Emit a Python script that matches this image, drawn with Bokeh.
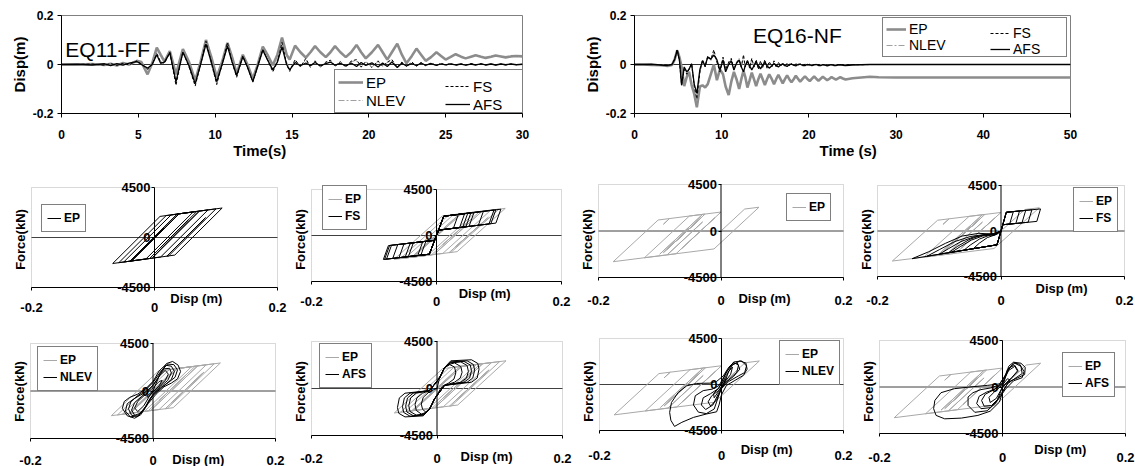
from bokeh.plotting import figure
from bokeh.layouts import row, column
from bokeh.models import (Range1d, LinearAxis, FixedTicker, NumeralTickFormatter,
                          CustomJSTickFormatter, Span, Label, Legend, LegendItem, BoxAnnotation)
from bokeh.embed import file_html
from bokeh.resources import INLINE

FONT = "Liberation Sans"

# ---------------- time histories (EQ11-FF) ----------------
eq11_t = [0, 1, 2, 2.8, 3.2, 3.6, 4.0, 4.4, 4.9, 5.2, 5.6, 5.9, 6.2, 6.45, 6.7, 7.05, 7.45, 7.9,
          8.3, 8.7, 9.05, 9.4, 9.75, 10.1, 10.45, 10.8, 11.1, 11.4, 11.8, 12.1, 12.45, 12.75, 13.1,
          13.4, 13.75, 14.05, 14.35, 14.65, 14.85, 15.2, 15.55, 15.9, 16.2, 16.5, 16.85, 17.2, 17.5,
          17.8, 18.15, 18.5, 18.85, 19.2, 19.5, 19.8, 20.2, 20.6, 20.9, 21.2, 21.5, 21.85, 22.15,
          22.45, 22.8, 23.1, 23.4, 23.7, 24.05, 24.4, 24.7, 25.0, 25.3, 25.65, 26.0, 26.3, 26.65,
          26.95, 27.3, 27.6, 27.95, 28.25, 28.6, 28.9, 29.25, 29.6, 30.0]
eq11_ep = [0, 0, 0.002, -0.002, 0.003, -0.004, 0.006, 0.0,
           0.015, 0.01, -0.04, 0.005, 0.069, 0.04, 0.012, 0.055, -0.04, 0.063,
           0.01, -0.065, 0.01, 0.1, 0.03, -0.052, 0.01, 0.088, 0.03, -0.037,
           0.04, 0.0, -0.058, -0.005, 0.073, 0.04, -0.003, 0.04, 0.11, 0.04,
           0.02, 0.077, 0.05, 0.028, 0.05, 0.075, 0.05, 0.03, 0.05, 0.075,
           0.05, 0.03, 0.05, 0.08, 0.05, 0.025, 0.05, 0.08, 0.05, 0.02,
           0.05, 0.085, 0.04, 0.005, 0.035, 0.065, 0.04, 0.015, 0.03, 0.05,
           0.035, 0.02, 0.03, 0.042, 0.032, 0.025, 0.032, 0.038, 0.032, 0.027,
           0.032, 0.037, 0.033, 0.029, 0.033, 0.035, 0.033]
eq11_fs = [0, 0, 0.002, -0.003, 0.004, -0.004, 0.005, -0.002,
           0.015, 0.002, -0.02, 0.0, 0.045, 0.01, 0.005, 0.05, -0.085, 0.052,
           -0.01, -0.088, 0.0, 0.095, 0.01, -0.082, 0.0, 0.09, 0.01, -0.052,
           0.035, -0.01, -0.072, -0.01, 0.062, 0.02, -0.03, 0.01, 0.09, 0.0,
           -0.028, 0.02, -0.01, 0.025, -0.012, 0.015, -0.01, 0.01, 0.018, -0.008,
           0.012, -0.01, 0.014, 0.02, -0.01, 0.012, -0.012, 0.015, -0.008, 0.01,
           0.02, -0.012, 0.01, -0.008, 0.01, -0.006, 0.008, -0.005, 0.006, -0.004,
           0.005, -0.003, 0.004, -0.003, 0.003, -0.003, 0.004, -0.002, 0.003, -0.002,
           0.002, -0.002, 0.002, -0.002, 0.002, -0.001, 0.001]
eq11_nlev = [0, 0.001, -0.001, 0.002, -0.003, 0.003, -0.002, 0.004,
             0.013, 0.004, -0.03, 0.0, 0.05, 0.01, 0.008, 0.05, -0.075, 0.055,
             -0.01, -0.082, 0.0, 0.092, 0.0, -0.078, 0.0, 0.085, 0.01, -0.048,
             0.036, -0.01, -0.068, -0.01, 0.065, 0.02, -0.02, 0.02, 0.085, 0.01,
             -0.02, 0.015, -0.005, 0.018, -0.008, 0.012, -0.012, 0.008, 0.015, -0.006,
             0.01, -0.012, 0.012, 0.015, -0.012, 0.01, -0.01, 0.012, -0.006, 0.008,
             0.015, -0.01, 0.008, -0.006, 0.008, -0.005, 0.006, -0.004, 0.005, -0.003,
             0.004, -0.003, 0.003, -0.002, 0.002, -0.002, 0.003, -0.002, 0.002, -0.001,
             0.002, -0.001, 0.001, -0.001, 0.001, 0.0, 0.0]
eq11_afs = [0, 0.001, -0.002, 0.003, -0.005, 0.004, -0.003, 0.006,
            0.012, 0.0, -0.015, 0.0, 0.04, 0.005, 0.01, 0.048, -0.07, 0.05,
            -0.005, -0.078, 0.0, 0.083, 0.01, -0.07, 0.0, 0.075, 0.01, -0.045,
            0.032, -0.01, -0.07, -0.01, 0.058, 0.02, -0.022, 0.01, 0.072, 0.0,
            -0.022, 0.008, -0.005, 0.006, -0.004, 0.008, -0.006, 0.004, 0.01, -0.003,
            0.005, -0.006, 0.006, -0.008, 0.008, -0.004, 0.007, -0.01, 0.006, -0.008,
            0.01, -0.012, 0.005, -0.006, 0.004, -0.005, 0.006, -0.003, 0.004, -0.004,
            0.003, -0.002, 0.003, -0.002, 0.002, -0.003, 0.002, -0.002, 0.003, -0.002,
            0.002, -0.002, 0.002, -0.001, 0.002, -0.001, 0.001]

# ---------------- time histories (EQ16-NF) ----------------
eq16_t = [0, 1, 2, 3, 3.8, 4.3, 4.6, 4.9, 5.15, 5.4,
          5.7, 6.0, 6.25, 6.55, 6.85, 7.15, 7.5, 7.8, 8.1, 8.4,
          8.75, 9.1, 9.45, 9.8, 10.15, 10.45, 10.8, 11.1, 11.4, 11.7,
          12.0, 12.25, 12.5, 12.7, 12.95, 13.2, 13.45, 13.7, 13.95, 14.2,
          14.45, 14.7, 14.95, 15.2, 15.45, 15.75, 16.0, 16.25, 16.5, 16.75,
          17.0, 17.25, 17.5, 17.75, 18.0, 18.25, 18.5, 18.75, 19.0, 19.3,
          19.55, 19.8, 20.1, 20.35, 20.6, 20.85, 21.1, 21.35, 21.6, 21.85,
          22.1, 22.4, 22.6, 22.85, 23.1, 23.4, 23.6, 23.9, 24.2, 25,
          26, 27, 28, 30, 35, 40, 45, 50]
eq16_ep = [0, 0, -0.002, -0.003, -0.006, -0.002, 0.02, 0.058, 0.03, -0.01,
           -0.088, -0.05, -0.03, -0.084, -0.12, -0.175, -0.09, -0.085, -0.094, -0.08,
           -0.04, 0.0, -0.064, -0.02, -0.04, -0.09, -0.125, -0.07, -0.03, -0.06,
           -0.1, -0.06, -0.026, -0.05, -0.094, -0.065, -0.033, -0.06, -0.088, -0.06,
           -0.038, -0.06, -0.084, -0.06, -0.04, -0.06, -0.08, -0.06, -0.042, -0.06,
           -0.077, -0.06, -0.044, -0.06, -0.073, -0.06, -0.046, -0.058, -0.07, -0.058,
           -0.048, -0.058, -0.068, -0.058, -0.049, -0.058, -0.066, -0.058, -0.05, -0.057,
           -0.064, -0.057, -0.051, -0.057, -0.062, -0.056, -0.052, -0.057, -0.061, -0.056,
           -0.053, -0.05, -0.052, -0.053, -0.053, -0.053, -0.053, -0.053]
eq16_fs = [0, 0, 0.0, -0.001, -0.003, 0.001, 0.022, 0.062, 0.015, -0.085,
           -0.02, -0.04, -0.02, 0.005, -0.09, -0.14, -0.03, 0.02, -0.01, 0.035,
           0.02, 0.06, 0.01, -0.03, 0.03, -0.02, 0.01, 0.025, -0.02, 0.01,
           0.02, -0.01, 0.04, -0.01, 0.02, -0.015, 0.025, -0.01, 0.02, -0.02,
           0.015, -0.012, 0.02, -0.015, 0.012, -0.01, 0.015, -0.012, 0.01, -0.008,
           0.008, -0.01, 0.006, -0.006, 0.004, -0.006, 0.003, -0.003, 0.002, -0.004,
           0.001, -0.002, 0.001, -0.003, 0.0, -0.002, 0.0, -0.003, 0.0, -0.002,
           -0.003, 0.0, -0.002, -0.001, -0.002, 0.0, -0.001, -0.002, -0.001, 0.0,
           -0.001, 0, 0, 0, 0, 0, 0, 0]
eq16_nlev = [0, 0, 0.001, -0.001, -0.004, 0.0, 0.02, 0.055, 0.02, -0.075,
             -0.015, -0.035, -0.015, 0.0, -0.085, -0.15, -0.03, 0.01, -0.01, 0.03,
             0.015, 0.05, 0.01, -0.025, 0.025, -0.025, 0.005, 0.02, -0.02, 0.008,
             0.025, -0.012, 0.03, -0.008, 0.018, -0.012, 0.02, -0.012, 0.015, -0.015,
             0.012, -0.01, 0.015, -0.012, 0.01, -0.008, 0.012, -0.01, 0.008, -0.006,
             0.006, -0.008, 0.005, -0.004, 0.003, -0.004, 0.002, -0.002, 0.001, -0.002,
             0.001, -0.001, 0.0, -0.002, 0.0, -0.001, 0.0, -0.001, 0.0, -0.001,
             -0.001, 0.0, -0.001, 0.0, -0.001, 0.0, 0.0, -0.001, 0.0, 0.0,
             0, 0, 0, 0, 0, 0, 0, 0]
eq16_afs = [0, 0, 0.001, -0.002, -0.004, 0.0, 0.02, 0.058, 0.02, -0.084,
            -0.01, -0.03, -0.02, 0.003, -0.08, -0.118, -0.02, 0.015, -0.005, 0.03,
            0.022, 0.038, 0.02, -0.023, 0.018, -0.03, 0.0, 0.015, -0.023, 0.005,
            0.018, -0.01, -0.03, -0.005, 0.012, -0.005, -0.022, -0.005, 0.01, -0.005,
            -0.018, -0.002, 0.008, -0.005, -0.015, -0.005, 0.004, -0.004, -0.01, -0.002,
            0.002, -0.004, -0.008, 0.0, 0.002, -0.003, -0.006, 0.0, 0.001, -0.004,
            -0.005, 0.0, -0.002, -0.005, -0.002, 0.0, -0.004, -0.005, -0.001, -0.003,
            -0.006, -0.003, -0.001, -0.004, -0.005, -0.002, -0.001, -0.003, -0.004, -0.002,
            -0.001, 0, 0, 0, 0, 0, 0, 0]

# ---------------- hysteresis loops (disp m, force kN) ----------------
ep11_loop = [(0, 0), (0.015, 825), (-0.0385, -2119), (-0.04, -2130), (0.037, 2108), (0.069, 2348),
             (0.01, -897), (0.055, 1578), (-0.008, -1890), (-0.04, -2130), (0.037, 2108), (0.063, 2303),
             (-0.014, -1936), (-0.068, -2340), (0.009, 1898), (0.1, 2580), (0.023, -1658), (-0.05, -2205),
             (0.027, 2033), (0.087, 2483), (0.01, -1755), (-0.037, -2108), (0.039, 2072), (-0.037, -2108),
             (-0.058, -2265), (0.019, 1973), (0.073, 2378), (-0.003, -1802), (0.073, 2378), (0.11, 2655),
             (0.033, -1583), (0.02, -1680), (0.083, 1785), (0.03, -1130), (0.08, 1620), (0.032, -1020)]

fs11_loop = [(0, 0),
             (-0.0115, -1830), (-0.045, -2065), (-0.037, -709), (-0.003, -471), (0, 0),
             (0.0115, 1886), (0.045, 2138), (0.037, 778), (0.0033, 525), (0, 0),
             (0.0115, 1886), (0.05, 2175), (0.042, 815), (0.0033, 525), (0, 0),
             (-0.0115, -1830), (-0.085, -2345), (-0.077, -989), (-0.003, -471), (0, 0),
             (0.0115, 1886), (0.055, 2213), (0.047, 853), (0.0033, 525), (0, 0),
             (-0.0115, -1830), (-0.083, -2331), (-0.075, -975), (-0.003, -471), (0, 0),
             (0.0115, 1886), (0.095, 2513), (0.087, 1153), (0.0033, 525), (0, 0),
             (-0.0115, -1830), (-0.08, -2310), (-0.072, -954), (-0.003, -471), (0, 0),
             (0.0115, 1886), (0.092, 2490), (0.084, 1130), (0.0033, 525), (0, 0),
             (-0.0115, -1830), (-0.05, -2100), (-0.042, -744), (-0.003, -471), (0, 0),
             (0.0115, 1886), (0.035, 2063), (0.027, 703), (0.0033, 525), (0, 0),
             (-0.0115, -1830), (-0.07, -2240), (-0.062, -884), (-0.003, -471), (0, 0),
             (0.0115, 1886), (0.06, 2250), (0.052, 890), (0.0033, 525), (0, 0),
             (-0.0115, -1830), (-0.03, -1960), (-0.022, -604), (-0.003, -471), (0, 0),
             (0.0115, 1886), (0.103, 2573), (0.095, 1213), (0.0033, 525), (0, 0),
             (-0.0115, -1830), (-0.025, -1925), (-0.017, -569), (-0.003, -471), (0, 0),
             (0.0115, 1886), (0.075, 2363), (0.067, 1003), (0.0033, 525), (0, 0),
             (-0.0115, -1830), (-0.06, -2170), (-0.052, -814), (-0.003, -471), (0, 0)]

nlev11_loop = [(0, 0), (0.012, 1700), (0.022, 2600), (0.032, 2800), (0.041, 2450), (0.045, 1850),
               (0.04, 1150), (0.03, 750), (0.018, 400), (0.005, -300),
               (-0.008, -1200), (-0.02, -2250), (-0.03, -2580), (-0.042, -2350), (-0.05, -1650),
               (-0.047, -1000), (-0.038, -600), (-0.025, -300), (-0.01, 300),
               (0.0, 900), (0.01, 1900), (0.02, 2450), (0.03, 2350), (0.035, 1850), (0.03, 1100),
               (0.02, 600), (0.008, 0),
               (-0.005, -700), (-0.015, -1800), (-0.025, -2400), (-0.035, -2300), (-0.04, -1700),
               (-0.036, -1000), (-0.026, -500), (-0.012, 100),
               (0.0, 800), (0.012, 1800), (0.024, 2550), (0.034, 2500), (0.04, 2000), (0.036, 1300),
               (0.025, 800), (0.012, 300), (0.0, -400),
               (-0.01, -1300), (-0.02, -2100), (-0.03, -2300), (-0.035, -1800), (-0.03, -1100),
               (-0.018, -500), (-0.005, 200),
               (0.008, 1200), (0.018, 2100), (0.027, 2150), (0.03, 1700), (0.024, 1000), (0.012, 400),
               (0.0, -300),
               (-0.012, -1500), (-0.025, -2350), (-0.037, -2450), (-0.045, -1900), (-0.042, -1200),
               (-0.03, -700), (-0.015, -200), (0.0, 500),
               (0.01, 1400), (0.02, 1950), (0.025, 1600), (0.02, 1000), (0.008, 300), (-0.005, -400),
               (-0.015, -1400), (-0.025, -1950), (-0.03, -1600), (-0.025, -1000), (-0.012, -300),
               (0.0, 300), (0.01, 900), (0.015, 1000), (0.01, 500), (0.0, -100), (-0.008, -600),
               (-0.01, -500), (0.0, 0)]

afs11_loop = [(0, 0),
              (0.004, 1000), (0.012, 2000), (0.022, 2650), (0.055, 2750), (0.065, 2400), (0.067, 1850),
              (0.064, 1000), (0.055, 600), (0.012, 300),
              (-0.004, -1000), (-0.012, -2000), (-0.022, -2620), (-0.051, -2720), (-0.061, -2370),
              (-0.063, -1820), (-0.06, -900), (-0.051, -450), (-0.012, -200),
              (0.004, 1000), (0.012, 2000), (0.022, 2450), (0.038, 2550), (0.048, 2200), (0.05, 1650),
              (0.047, 1000), (0.038, 600), (0.012, 300),
              (-0.004, -1000), (-0.012, -2000), (-0.022, -2450), (-0.033, -2550), (-0.043, -2200),
              (-0.045, -1650), (-0.042, -900), (-0.033, -450), (-0.012, -200),
              (0.004, 1000), (0.012, 2000), (0.022, 2550), (0.048, 2650), (0.058, 2300), (0.06, 1750),
              (0.057, 1000), (0.048, 600), (0.012, 300),
              (-0.004, -1000), (-0.012, -2000), (-0.022, -2550), (-0.043, -2650), (-0.053, -2300),
              (-0.055, -1750), (-0.052, -900), (-0.043, -450), (-0.012, -200),
              (0.004, 1000), (0.012, 2000), (0.022, 2350), (0.028, 2450), (0.038, 2100), (0.04, 1550),
              (0.037, 1000), (0.028, 600), (0.012, 300),
              (-0.004, -1000), (-0.012, -2000), (-0.02, -2350), (-0.025, -2450), (-0.033, -2100),
              (-0.035, -1550), (-0.032, -900), (-0.023, -450), (-0.012, -200),
              (0.004, 1000), (0.012, 2000), (0.022, 2500), (0.043, 2600), (0.053, 2250), (0.055, 1700),
              (0.052, 1000), (0.043, 600), (0.012, 300),
              (-0.004, -1000), (-0.012, -2000), (-0.022, -2500), (-0.038, -2600), (-0.048, -2250),
              (-0.05, -1700), (-0.047, -900), (-0.038, -450), (-0.012, -200),
              (0.004, 1000), (0.012, 2000), (0.02, 2300), (0.028, 2050), (0.03, 1500), (0.027, 900),
              (0.018, 500), (0.008, 200),
              (-0.004, -1000), (-0.012, -1950), (-0.018, -2250), (-0.023, -2000), (-0.025, -1500),
              (-0.022, -850), (-0.014, -400), (-0.005, -100), (0, 0)]

ep16_loop = [(0, 0), (0.0386, 2125), (0.062, 2300), (-0.0114, -1735), (-0.088, -2310), (-0.03, 880),
             (-0.084, -2090), (-0.088, -2310), (-0.176, -2970), (-0.1026, 1065), (-0.084, 1205),
             (-0.094, 655), (-0.084, 1205), (0.0, 1835), (-0.064, -1685), (-0.01, 1285),
             (-0.0734, -2200), (-0.125, -2588), (-0.0516, 1448), (-0.03, 1610), (-0.1, -2240),
             (-0.03, 1610), (-0.026, 1640), (-0.094, -2100), (-0.033, 1255), (-0.088, -1770),
             (-0.038, 980), (-0.084, -1550), (-0.04, 870), (-0.08, -1330), (-0.042, 760),
             (-0.077, -1165), (-0.046, 540), (-0.07, -780), (-0.048, 430), (-0.064, -450),
             (-0.05, 320), (-0.061, -285), (-0.055, 45)]

fs16_loop = [(0, 0),
             (0.0086, 1852), (0.064, 2184), (0.058, 950), (0.0028, 617), (0, 0),
             (-0.0065, -1365), (-0.085, -2150), (-0.07, -1500), (-0.05, -800), (-0.03, -400),
             (-0.012, -280), (0, 0),
             (-0.0065, -1365), (-0.144, -2740), (-0.117, -2050), (-0.09, -1220), (-0.063, -500),
             (-0.036, -230), (-0.014, -300), (-0.004, -80), (0, 0),
             (0.0086, 1852), (0.03, 1980), (0.024, 746), (0.0028, 617), (0, 0),
             (-0.0065, -1365), (-0.06, -1900), (-0.05, -1400), (-0.035, -800), (-0.02, -450),
             (-0.006, -300), (0, 0),
             (0.0086, 1852), (0.04, 2040), (0.034, 806), (0.0028, 617), (0, 0),
             (-0.0065, -1365), (-0.1, -2300), (-0.085, -1750), (-0.065, -1050), (-0.045, -600),
             (-0.025, -400), (-0.008, -300), (0, 0),
             (0.0086, 1852), (0.02, 1920), (0.014, 686), (0.0028, 617), (0, 0),
             (-0.0065, -1365), (-0.08, -2100), (-0.066, -1550), (-0.048, -900), (-0.03, -500),
             (-0.012, -350), (0, 0),
             (-0.0065, -1365), (-0.12, -2500), (-0.1, -1850), (-0.075, -1050), (-0.05, -550),
             (-0.025, -330), (-0.008, -250), (0, 0),
             (0.0086, 1852), (0.05, 2100), (0.044, 866), (0.0028, 617), (0, 0),
             (-0.0065, -1365), (-0.045, -1750), (-0.035, -1200), (-0.022, -650), (-0.008, -350), (0, 0)]

nlev16_loop = [(0, 0), (0.008, 900), (0.018, 1900), (0.03, 2300), (0.04, 2100), (0.042, 1500),
               (0.036, 900), (0.022, 400), (0.008, -100),
               (0.0, -1000), (-0.004, -2000), (-0.008, -2670), (-0.025, -2890), (-0.046, -3220),
               (-0.065, -3700), (-0.077, -4100), (-0.083, -3500), (-0.085, -2730), (-0.082, -1755),
               (-0.071, -780), (-0.057, -130), (-0.041, 100), (-0.03, 120), (-0.019, 130),
               (-0.008, 300), (0.003, 845),
               (0.012, 1700), (0.02, 2150), (0.028, 1900), (0.025, 1200), (0.012, 500), (0.0, -300),
               (-0.004, -1000), (-0.012, -2400), (-0.025, -2850), (-0.038, -2700), (-0.046, -2000),
               (-0.043, -1100), (-0.03, -600), (-0.015, -450), (-0.004, -100),
               (0.008, 1200), (0.018, 2000), (0.026, 2100), (0.03, 1500), (0.02, 800), (0.005, 100),
               (-0.005, -900), (-0.014, -2000), (-0.026, -2450), (-0.033, -2000), (-0.03, -1300),
               (-0.018, -900), (-0.005, -400),
               (0.01, 1400), (0.02, 2200), (0.033, 2310), (0.041, 1820), (0.038, 1170), (0.028, 850),
               (0.012, 300), (0.0, -400),
               (-0.008, -1500), (-0.018, -2100), (-0.022, -1700), (-0.016, -1100), (-0.005, -600),
               (0.005, 200), (0.012, 1300), (0.018, 1700), (0.015, 1000), (0.005, 200),
               (-0.005, -700), (-0.012, -1300), (-0.013, -900), (-0.004, -300), (0.004, 400),
               (0.008, 600), (0.003, 100)]

afs16_loop = [(0, 0), (0.005, 1000), (0.01, 2000), (0.018, 2400), (0.03, 2300), (0.037, 1900),
              (0.036, 1200), (0.025, 900), (0.01, 500), (0.0, -500),
              (-0.005, -1460), (-0.02, -2340), (-0.04, -2750), (-0.067, -3010), (-0.094, -3080),
              (-0.108, -2750), (-0.112, -2100), (-0.11, -1300), (-0.1, -550), (-0.078, -160),
              (-0.048, 30), (-0.024, 160), (-0.005, 300),
              (0.005, 1100), (0.012, 1900), (0.02, 2100), (0.025, 1600), (0.015, 900), (0.0, 0),
              (-0.01, -1500), (-0.025, -2300), (-0.045, -2450), (-0.056, -1780), (-0.056, -970),
              (-0.048, -550), (-0.035, -250), (-0.02, -100), (-0.005, 200),
              (0.008, 1500), (0.018, 2350), (0.028, 2200), (0.035, 1500), (0.032, 900),
              (0.018, 600), (0.005, -200),
              (-0.008, -1300), (-0.02, -2000), (-0.035, -2100), (-0.042, -1600), (-0.038, -900),
              (-0.026, -500), (-0.012, -200), (0.0, 300),
              (0.008, 1700), (0.02, 2300), (0.03, 2000), (0.032, 1300), (0.022, 900), (0.008, 300),
              (-0.008, -1200), (-0.018, -1800), (-0.03, -1850), (-0.034, -1300), (-0.028, -700),
              (-0.015, -300), (0.0, 400),
              (0.01, 1600), (0.02, 2000), (0.025, 1500), (0.015, 900), (0.0, 0),
              (-0.01, -1100), (-0.02, -1500), (-0.022, -1000), (-0.012, -400), (0.0, 200),
              (0.008, 800), (0.012, 700), (0.0, 0)]

disp_ticks = [-0.2, 0, 0.2]
force_ticks = [-4500, 0, 4500]
eq11_ticks = [0, 5, 10, 15, 20, 25, 30]
eq16_ticks = [0, 10, 20, 30, 40, 50]

EP_GRAY = "#8c8c8c"
NLEV_GRAY = "#a0a0a0"
LOOP_GRAY = "#a8a8a8"


def tick_style(ax, size="12px"):
    ax.major_label_text_font = FONT
    ax.major_label_text_font_style = "bold"
    ax.major_label_text_font_size = size
    ax.major_label_text_color = "black"
    ax.minor_tick_line_color = None
    ax.major_tick_in = 0
    ax.axis_line_color = "black"
    ax.major_tick_line_color = "black"


def text_axis(tick, text, size, standoff, fixed=None):
    ax = LinearAxis(ticker=FixedTicker(ticks=[tick]),
                    formatter=CustomJSTickFormatter(code="return '%s';" % text))
    if fixed is not None:
        ax.fixed_location = fixed
    tick_style(ax, size)
    ax.axis_line_color = None
    ax.major_tick_line_color = None
    ax.major_tick_out = 0
    ax.major_label_standoff = standoff
    return ax


def time_fig(width, bl, br, xmax, xticks, t, ep, fs, nlev, afs, title, title_xy,
             tl_x, tl_text, leg_xy, leg2_xy, leg_font, glyph_w, row_h):
    p = figure(width=width, height=162, x_range=Range1d(0, xmax), y_range=Range1d(-0.2, 0.2),
               output_backend="svg", toolbar_location=None, title=None,
               min_border_left=bl, min_border_right=br, min_border_top=15, min_border_bottom=49)
    p.xgrid.visible = False
    p.ygrid.visible = False
    p.outline_line_color = "#808080"
    xa = p.xaxis[0]
    ya = p.yaxis[0]
    xa.ticker = FixedTicker(ticks=xticks)
    ya.ticker = FixedTicker(ticks=disp_ticks)
    ya.formatter = NumeralTickFormatter(format="0.[0]")
    tick_style(xa)
    tick_style(ya)
    xa.major_tick_out = 4
    ya.major_tick_out = 4
    xa.major_label_standoff = 12
    ya.major_label_standoff = 4
    ya.axis_label = "Disp(m)"
    ya.axis_label_text_font = FONT
    ya.axis_label_text_font_style = "bold"
    ya.axis_label_text_font_size = "15px"
    ya.axis_label_text_color = "black"
    ya.axis_label_standoff = 2
    p.add_layout(text_axis(tl_x, tl_text, "15px", 0), "below")
    p.add_layout(Span(location=0, dimension="width", line_color="#303030", line_width=1,
                      level="underlay"))
    r_ep = p.line(t, ep, line_color=EP_GRAY, line_width=2.6)
    r_nl = p.line(t, nlev, line_color=NLEV_GRAY, line_width=1, line_dash="6 2 2 2")
    r_fs = p.line(t, fs, line_color="black", line_width=1, line_dash="3 2")
    r_af = p.line(t, afs, line_color="black", line_width=1.3)
    common = dict(label_text_font=FONT, label_text_font_size=leg_font, label_text_color="black",
                  glyph_width=glyph_w, glyph_height=row_h, label_height=row_h, padding=3,
                  spacing=0, margin=0, label_standoff=3)
    leg1 = Legend(items=[LegendItem(label="EP", renderers=[r_ep]),
                         LegendItem(label="NLEV", renderers=[r_nl])],
                  location=leg_xy, border_line_color="black", border_line_width=1,
                  background_fill_color="white", background_fill_alpha=1,
                  label_width=154, **common)
    leg2 = Legend(items=[LegendItem(label="FS", renderers=[r_fs]),
                         LegendItem(label="AFS", renderers=[r_af])],
                  location=leg2_xy, border_line_color=None, background_fill_alpha=0,
                  label_width=30, **common)
    p.add_layout(leg1)
    p.add_layout(leg2)
    p.add_layout(Label(x=title_xy[0], y=title_xy[1], text=title, text_font=FONT,
                       text_font_size="21px", text_color="black", text_baseline="middle",
                       text_align="left"))
    return p


def hyst_fig(W, H, box, loops, leg_xy, disp_x, s1, s2):
    # box = pixel position of the plot area (left, right, top, bottom) inside this figure
    xl, xr, yt, yb = box
    d_lo, d_hi = disp_ticks[0], disp_ticks[-1]
    f_lo, f_hi = force_ticks[0], force_ticks[-1]
    ppm = (xr - xl) / (d_hi - d_lo)
    kpp = (f_hi - f_lo) / (yb - yt)
    p = figure(width=W, height=H,
               x_range=Range1d(d_lo - xl / ppm, d_hi + (W - xr) / ppm),
               y_range=Range1d(f_lo - (H - yb) * kpp, f_hi + yt * kpp),
               output_backend="svg", toolbar_location=None, title=None,
               x_axis_location=None, y_axis_location=None,
               min_border=0, min_border_left=0, min_border_right=0,
               min_border_top=0, min_border_bottom=0)
    p.xgrid.visible = False
    p.ygrid.visible = False
    p.outline_line_color = None
    # plot-area box, zero line, bottom axis line and vertical axis line
    p.add_layout(BoxAnnotation(left=d_lo, right=d_hi, bottom=f_lo, top=f_hi,
                               fill_alpha=0, line_color="#808080", line_width=1, level="underlay"))
    p.segment(x0=[d_lo], y0=[0], x1=[d_hi], y1=[0], line_color="#404040", line_width=1)
    items = []
    for pts, color, lab in loops:
        d = [q[0] for q in pts]
        f = [q[1] for q in pts]
        r = p.line(d, f, line_color=color, line_width=1)
        items.append(LegendItem(label=lab, renderers=[r]))
    p.segment(x0=[d_lo], y0=[f_lo], x1=[d_hi], y1=[f_lo], line_color="black", line_width=1.2)
    p.segment(x0=[0], y0=[f_lo], x1=[0], y1=[f_hi], line_color="black", line_width=1)
    # "Disp (m)" title and tick numbers under the plot area
    p.add_layout(text_axis(disp_x, "Disp (m)", "13px", s1, fixed=f_lo), "below")
    xa = LinearAxis(ticker=FixedTicker(ticks=disp_ticks),
                    formatter=NumeralTickFormatter(format="0.[0]"), fixed_location=f_lo)
    tick_style(xa, "13px")
    xa.axis_line_color = None
    xa.major_tick_out = 3
    xa.major_label_standoff = s2
    p.add_layout(xa, "below")
    # force axis crossing at zero displacement
    ya = LinearAxis(ticker=FixedTicker(ticks=force_ticks),
                    formatter=NumeralTickFormatter(format="0"), fixed_location=0)
    tick_style(ya, "13px")
    ya.axis_line_color = None
    ya.major_tick_out = 3
    ya.major_label_standoff = 1
    p.add_layout(ya, "left")
    la = LinearAxis(ticker=FixedTicker(ticks=[]), axis_label="Force(kN)", axis_line_color=None,
                    major_tick_line_color=None, minor_tick_line_color=None, major_tick_out=0,
                    major_label_standoff=0, fixed_location=d_lo,
                    axis_label_standoff=4, axis_label_text_font=FONT,
                    axis_label_text_font_style="bold", axis_label_text_font_size="13px",
                    axis_label_text_color="black")
    p.add_layout(la, "left")
    leg = Legend(items=items, location=leg_xy, border_line_color="black", border_line_width=1,
                 background_fill_color="white", background_fill_alpha=1,
                 label_text_font=FONT, label_text_font_style="bold", label_text_font_size="12px",
                 label_text_color="black", glyph_width=14, glyph_height=16, label_height=16,
                 padding=5, spacing=1, margin=0, label_standoff=3, label_width=10)
    p.add_layout(leg)
    return p


t1 = time_fig(575, 61, 53, 30, eq11_ticks, eq11_t, eq11_ep, eq11_fs, eq11_nlev, eq11_afs,
              "EQ11-FF", (0.25, 0.063), 12.9, "Time(s)", (273, 0), (384, 0), "15px", 25, 18)
t2 = time_fig(560, 59, 65, 50, eq16_ticks, eq16_t, eq16_ep, eq16_fs, eq16_nlev, eq16_afs,
              "EQ16-NF", (13.6, 0.118), 24.5, "Time (s)", (248, 56), (356, 56), "14px", 20, 16)

hA = hyst_fig(290, 154, (31, 277, 25, 125), [(ep11_loop, "black", "EP")],
              (41, 84), 0.068, 3, 12)
hB = hyst_fig(282, 154, (21, 271, 27, 119),
              [(ep11_loop, LOOP_GRAY, "EP"), (fs11_loop, "black", "FS")],
              (32, 86), 0.077, 4, 12)
hC = hyst_fig(286, 154, (26, 271, 22, 115), [(ep16_loop, LOOP_GRAY, "EP")],
              (214, 95), 0.071, 13, 15)
hD = hyst_fig(277, 154, (19, 266, 23, 114),
              [(ep16_loop, LOOP_GRAY, "EP"), (fs16_loop, "black", "FS")],
              (215, 84), 0.098, 4, 16)

hE = hyst_fig(290, 150, (30, 275, 27, 122),
              [(ep11_loop, LOOP_GRAY, "EP"), (nlev11_loop, "black", "NLEV")],
              (37, 75), 0.074, 13, 14)
hF = hyst_fig(282, 150, (21, 272, 25, 119),
              [(ep11_loop, LOOP_GRAY, "EP"), (afs11_loop, "black", "AFS")],
              (29, 78), 0.079, 13, 15)
hG = hyst_fig(286, 150, (27, 271, 22, 114),
              [(ep16_loop, LOOP_GRAY, "EP"), (nlev16_loop, "black", "NLEV")],
              (207, 81), 0.074, 11, 17)
hH = hyst_fig(277, 150, (21, 267, 24, 117),
              [(ep16_loop, LOOP_GRAY, "EP"), (afs16_loop, "black", "AFS")],
              (204, 69), 0.094, 8, 16)

layout = column(row(t1, t2, spacing=0),
                row(hA, hB, hC, hD, spacing=0),
                row(hE, hF, hG, hH, spacing=0), spacing=0)

open("out.html", "w").write(file_html(layout, INLINE))
